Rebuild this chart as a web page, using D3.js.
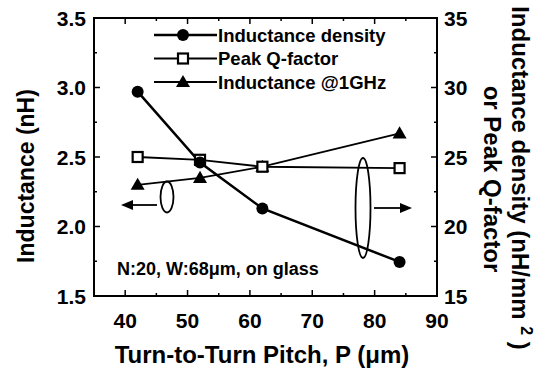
<!DOCTYPE html>
<html>
<head>
<meta charset="utf-8">
<script src="https://cdn.jsdelivr.net/npm/d3@7"></script>
<style>
  body { margin: 0; background: #fff; }
  svg text { font-family: "Liberation Sans", Arial, sans-serif; font-weight: bold; fill: #000; }
</style>
</head>
<body>
<svg id="chart" width="536" height="370"></svg>
<script>
/* data */
var pitch = [42, 52, 62, 84];
var density = [29.7, 24.6, 21.3, 17.45];      // nH/mm^2, right axis
var peakQ = [25.0, 24.8, 24.3, 24.2];          // right axis
var ind1GHz = [2.30, 2.35, 2.43, 2.67];        // nH, left axis
var xTicks = [40, 50, 60, 70, 80, 90];
var yLeftTicks = [1.5, 2.0, 2.5, 3.0, 3.5];
var yRightTicks = [15, 20, 25, 30, 35];
var legendNames = ['Inductance density', 'Peak Q-factor', 'Inductance @1GHz'];

var svg = d3.select('#chart');
// plot box (note: "top" is reserved on window, so use pl/pr/pt/pb)
var pl = 94, pr = 437, pt = 18, pb = 296;

var x = d3.scaleLinear().domain([35, 90]).range([pl, pr]);
var yL = d3.scaleLinear().domain([1.5, 3.5]).range([pb, pt]);
var yR = d3.scaleLinear().domain([15, 35]).range([pb, pt]);

// frame
svg.append('rect')
   .attr('x', pl).attr('y', pt)
   .attr('width', pr - pl).attr('height', pb - pt)
   .attr('fill', 'none').attr('stroke', '#000').attr('stroke-width', 2);

// ticks (inward), majors plus minor midpoints
function tickLines(vals, len, orient) {
  var g = svg.append('g').attr('stroke', '#000').attr('stroke-width', 1.5);
  vals.forEach(function(v) {
    if (orient == 'bottom') g.append('line').attr('x1', x(v)).attr('x2', x(v)).attr('y1', pb).attr('y2', pb - len);
    if (orient == 'top') g.append('line').attr('x1', x(v)).attr('x2', x(v)).attr('y1', pt).attr('y2', pt + len);
    if (orient == 'left') g.append('line').attr('x1', pl).attr('x2', pl + len).attr('y1', yL(v)).attr('y2', yL(v));
    if (orient == 'right') g.append('line').attr('x1', pr).attr('x2', pr - len).attr('y1', yR(v)).attr('y2', yR(v));
  });
}
var xMinor = [45, 55, 65, 75, 85];
tickLines(xTicks, 6, 'bottom'); tickLines(xTicks, 6, 'top');
tickLines(xMinor, 3, 'bottom'); tickLines(xMinor, 3, 'top');
tickLines(yLeftTicks, 6, 'left');
tickLines([1.75, 2.25, 2.75, 3.25], 3, 'left');
tickLines(yRightTicks, 6, 'right');
tickLines([17.5, 22.5, 27.5, 32.5], 3, 'right');

// tick labels
svg.selectAll('.xl').data(xTicks).enter().append('text')
   .attr('x', function(d) { return x(d); }).attr('y', 328)
   .attr('text-anchor', 'middle').attr('font-size', 21)
   .text(function(d) { return d; });
svg.selectAll('.yl').data(yLeftTicks).enter().append('text')
   .attr('x', 86).attr('y', function(d) { return yL(d) + 7.5; })
   .attr('text-anchor', 'end').attr('font-size', 21)
   .text(function(d) { return d3.format('.1f')(d); });
svg.selectAll('.yr').data(yRightTicks).enter().append('text')
   .attr('x', 444).attr('y', function(d) { return yR(d) + 7.5; })
   .attr('text-anchor', 'start').attr('font-size', 21)
   .text(function(d) { return d; });

// axis titles
svg.append('text').attr('x', 262).attr('y', 363)
   .attr('text-anchor', 'middle').attr('font-size', 24)
   .text('Turn-to-Turn Pitch, P (\u03bcm)');
svg.append('text').attr('transform', 'translate(34,176) rotate(-90)')
   .attr('text-anchor', 'middle').attr('font-size', 23)
   .text('Inductance (nH)');
var rt = svg.append('text').attr('transform', 'translate(512,178) rotate(90)')
   .attr('text-anchor', 'middle').attr('font-size', 24);
rt.append('tspan').text('Inductance density (nH/mm ');
rt.append('tspan').attr('dy', -9).attr('font-size', 16).text('2');
rt.append('tspan').attr('dy', 9).text(' )');
svg.append('text').attr('transform', 'translate(484,179) rotate(90)')
   .attr('text-anchor', 'middle').attr('font-size', 24)
   .text('or Peak Q-factor');

// series
function series(vals, yScale, width) {
  var line = d3.line().x(function(d, i) { return x(pitch[i]); }).y(function(d) { return yScale(d); });
  svg.append('path').datum(vals).attr('d', line)
     .attr('fill', 'none').attr('stroke', '#000').attr('stroke-width', width);
}
series(peakQ, yR, 1.8);
series(ind1GHz, yL, 1.8);
series(density, yR, 2.5);

var tri = d3.symbol().type(d3.symbolTriangle).size(85);
function marker(g, type, cx, cy) {
  if (type == 'circle')
    g.append('circle').attr('cx', cx).attr('cy', cy).attr('r', 6).attr('fill', '#000');
  else if (type == 'square')
    g.append('rect').attr('x', cx - 5).attr('y', cy - 5).attr('width', 10).attr('height', 10)
     .attr('fill', '#fff').attr('stroke', '#000').attr('stroke-width', 2.2);
  else
    g.append('path').attr('d', tri).attr('transform', 'translate(' + cx + ',' + (cy + 1) + ')').attr('fill', '#000');
}
var mk = svg.append('g');
ind1GHz.forEach(function(v, i) { marker(mk, 'triangle', x(pitch[i]), yL(v)); });
peakQ.forEach(function(v, i) { marker(mk, 'square', x(pitch[i]), yR(v)); });
density.forEach(function(v, i) { marker(mk, 'circle', x(pitch[i]), yR(v)); });

// legend
var legTypes = ['circle', 'square', 'triangle'];
legendNames.forEach(function(name, i) {
  var ly = 35 + i * 23.5;
  svg.append('line').attr('x1', 154).attr('x2', 217).attr('y1', ly).attr('y2', ly)
     .attr('stroke', '#000').attr('stroke-width', i == 0 ? 2.5 : 1.8);
  marker(svg, legTypes[i], 183, ly);
  svg.append('text').attr('x', 218).attr('y', ly + 6.5).attr('font-size', 18.5).text(name);
});

// annotation
svg.append('text').attr('x', 117).attr('y', 275).attr('font-size', 18)
   .text('N:20, W:68\u03bcm, on glass');

// grouping ellipses and arrows
var ann = svg.append('g').attr('fill', 'none').attr('stroke', '#000').attr('stroke-width', 1.8);
ann.append('ellipse').attr('cx', 167).attr('cy', 197).attr('rx', 6.5).attr('ry', 15.5);
ann.append('ellipse').attr('cx', 363).attr('cy', 208).attr('rx', 7.5).attr('ry', 50);
ann.append('line').attr('x1', 157).attr('x2', 130).attr('y1', 205).attr('y2', 205);
ann.append('line').attr('x1', 374).attr('x2', 403).attr('y1', 208).attr('y2', 208);
svg.append('path').attr('d', 'M121,205 L133,200 L133,210 Z').attr('fill', '#000');
svg.append('path').attr('d', 'M412,208 L400,203 L400,213 Z').attr('fill', '#000');
</script>
</body>
</html>
